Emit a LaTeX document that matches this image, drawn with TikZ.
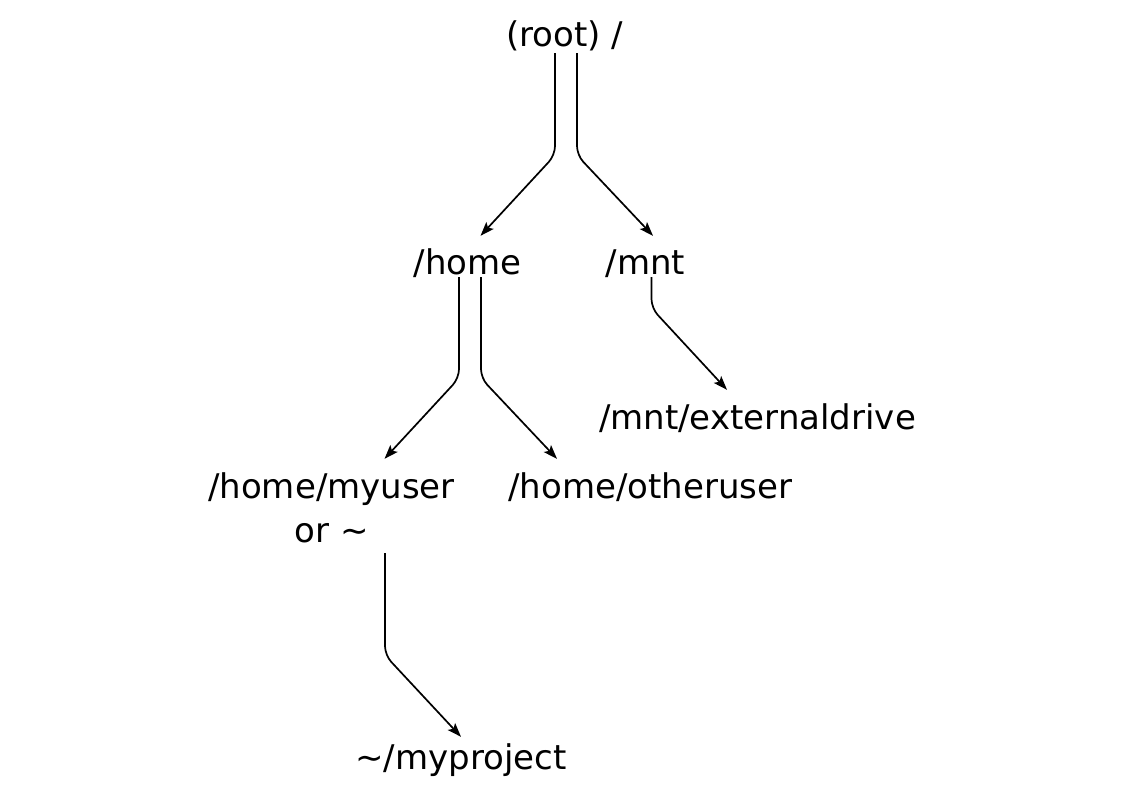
\documentclass[tikz,border=0pt]{standalone}
\usepackage{fontspec}
\setmainfont{DejaVu Sans}
\usetikzlibrary{arrows.meta}
\begin{document}
\begin{tikzpicture}[x=1pt,y=-1pt,
  lbl/.style={font=\fontsize{34}{44}\selectfont, inner sep=0pt, text height=25pt, text depth=7pt, anchor=base, align=center},
  conn/.style={line width=1.7pt, rounded corners=9pt, -{Stealth[length=14pt,width=10pt,inset=3pt]}}]
\useasboundingbox (0,0) rectangle (1123,794);
\node[lbl] (root) at (564.5,47) {(root) /};
\node[lbl] (home) at (467.5,274) {/home};
\node[lbl] (mnt) at (645.5,274) {/mnt};
\node[lbl] (ext) at (757.5,429) {/mnt/externaldrive};
\node[lbl, text height=69pt] (myuser) at (331.5,542) {/home/myuser\\or \textasciitilde};
\node[lbl] (other) at (650.5,498) {/home/otheruser};
\node[lbl] (proj) at (461,769) {\textasciitilde/myproject};
\draw[conn] ([xshift=-9.5pt,yshift=1pt]root.south) -- ++(0,102) -- ([xshift=13pt,yshift=13pt]home.north);
\draw[conn] ([xshift=12.5pt,yshift=1pt]root.south) -- ++(0,102) -- ([xshift=7.5pt,yshift=13pt]mnt.north);
\draw[conn] ([xshift=-8.5pt,yshift=4pt]home.south) -- ++(0,101) -- ([xshift=53pt,yshift=14pt]myuser.north);
\draw[conn] ([xshift=13.5pt,yshift=4pt]home.south) -- ++(0,101) -- ([xshift=-93.5pt,yshift=14pt]other.north);
\draw[conn] ([xshift=6pt,yshift=4pt]mnt.south) -- ++(0,31) -- ([xshift=-30.5pt,yshift=14pt]ext.north);
\draw[conn] ([xshift=53.5pt,yshift=-4pt]myuser.south) -- ++(0,102) -- ([xshift=0pt,yshift=7pt]proj.north);
\end{tikzpicture}
\end{document}
